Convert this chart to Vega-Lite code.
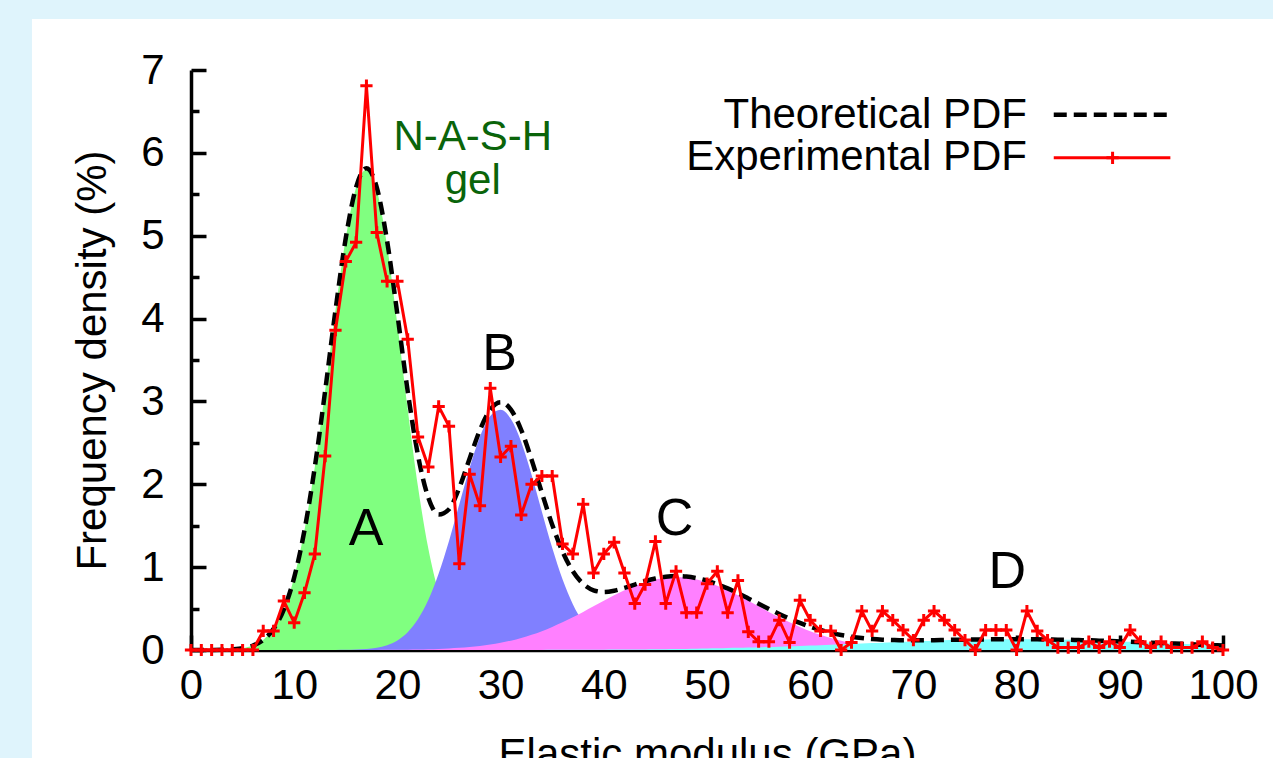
{
"$schema": "https://vega.github.io/schema/vega-lite/v6.json",
"autosize": "none",
"width": 1032,
"height": 580,
"padding": {"left": 191, "top": 70, "right": 50, "bottom": 108},
"background": "white",
"config": {"view": {"stroke": null}, "font": "Liberation Sans", "axis": {"grid": false}},
"datasets": {
"pdf": [
{"E":0,"exp":0,"A":0,"B":0,"C":0,"D":0,"T":0},
{"E":1,"exp":0,"A":0,"B":0,"C":0,"D":0,"T":0},
{"E":2,"exp":0,"A":0.001,"B":0,"C":0,"D":0,"T":0.001},
{"E":3,"exp":0,"A":0.003,"B":0,"C":0,"D":0,"T":0.003},
{"E":4,"exp":0,"A":0.009,"B":0,"C":0,"D":0,"T":0.009},
{"E":5,"exp":0,"A":0.022,"B":0,"C":0,"D":0,"T":0.022},
{"E":6,"exp":0,"A":0.054,"B":0,"C":0,"D":0,"T":0.054},
{"E":7,"exp":0.23,"A":0.122,"B":0,"C":0,"D":0,"T":0.122},
{"E":8,"exp":0.23,"A":0.255,"B":0,"C":0,"D":0,"T":0.255},
{"E":9,"exp":0.59,"A":0.491,"B":0,"C":0,"D":0,"T":0.491},
{"E":10,"exp":0.33,"A":0.876,"B":0,"C":0,"D":0,"T":0.876},
{"E":11,"exp":0.69,"A":1.447,"B":0,"C":0,"D":0,"T":1.447},
{"E":12,"exp":1.16,"A":2.211,"B":0,"C":0,"D":0,"T":2.211},
{"E":13,"exp":2.34,"A":3.128,"B":0.001,"C":0,"D":0,"T":3.129},
{"E":14,"exp":3.86,"A":4.099,"B":0.001,"C":0,"D":0,"T":4.1},
{"E":15,"exp":4.69,"A":4.971,"B":0.002,"C":0,"D":0,"T":4.973},
{"E":16,"exp":4.92,"A":5.581,"B":0.005,"C":0,"D":0,"T":5.586},
{"E":17,"exp":6.81,"A":5.8,"B":0.012,"C":0.001,"D":0,"T":5.813},
{"E":18,"exp":5.04,"A":5.555,"B":0.028,"C":0.001,"D":0,"T":5.584},
{"E":19,"exp":4.45,"A":4.878,"B":0.058,"C":0.002,"D":0,"T":4.938},
{"E":20,"exp":4.45,"A":3.93,"B":0.116,"C":0.003,"D":0,"T":4.049},
{"E":21,"exp":3.75,"A":2.903,"B":0.215,"C":0.004,"D":0,"T":3.122},
{"E":22,"exp":2.57,"A":1.967,"B":0.373,"C":0.006,"D":0,"T":2.346},
{"E":23,"exp":2.21,"A":1.222,"B":0.606,"C":0.009,"D":0,"T":1.837},
{"E":24,"exp":2.94,"A":0.697,"B":0.924,"C":0.013,"D":0,"T":1.634},
{"E":25,"exp":2.7,"A":0.364,"B":1.317,"C":0.018,"D":0,"T":1.699},
{"E":26,"exp":1.04,"A":0.174,"B":1.759,"C":0.026,"D":0,"T":1.959},
{"E":27,"exp":2.12,"A":0.077,"B":2.199,"C":0.036,"D":0,"T":2.312},
{"E":28,"exp":1.74,"A":0.031,"B":2.575,"C":0.049,"D":0,"T":2.655},
{"E":29,"exp":3.16,"A":0.011,"B":2.824,"C":0.066,"D":0,"T":2.901},
{"E":30,"exp":2.33,"A":0.004,"B":2.899,"C":0.087,"D":0.001,"T":2.991},
{"E":31,"exp":2.46,"A":0.001,"B":2.787,"C":0.113,"D":0.001,"T":2.902},
{"E":32,"exp":1.63,"A":0,"B":2.509,"C":0.145,"D":0.001,"T":2.655},
{"E":33,"exp":2.0,"A":0,"B":2.114,"C":0.183,"D":0.001,"T":2.298},
{"E":34,"exp":2.1,"A":0,"B":1.669,"C":0.227,"D":0.001,"T":1.897},
{"E":35,"exp":2.1,"A":0,"B":1.233,"C":0.278,"D":0.002,"T":1.513},
{"E":36,"exp":1.28,"A":0,"B":0.853,"C":0.334,"D":0.002,"T":1.189},
{"E":37,"exp":1.16,"A":0,"B":0.553,"C":0.395,"D":0.002,"T":0.95},
{"E":38,"exp":1.76,"A":0,"B":0.335,"C":0.46,"D":0.003,"T":0.798},
{"E":39,"exp":0.93,"A":0,"B":0.191,"C":0.527,"D":0.003,"T":0.721},
{"E":40,"exp":1.16,"A":0,"B":0.102,"C":0.594,"D":0.004,"T":0.7},
{"E":41,"exp":1.3,"A":0,"B":0.051,"C":0.66,"D":0.005,"T":0.716},
{"E":42,"exp":0.93,"A":0,"B":0.024,"C":0.72,"D":0.005,"T":0.749},
{"E":43,"exp":0.56,"A":0,"B":0.01,"C":0.774,"D":0.006,"T":0.79},
{"E":44,"exp":0.79,"A":0,"B":0.004,"C":0.819,"D":0.007,"T":0.83},
{"E":45,"exp":1.31,"A":0,"B":0.002,"C":0.852,"D":0.009,"T":0.863},
{"E":46,"exp":0.56,"A":0,"B":0.001,"C":0.873,"D":0.01,"T":0.884},
{"E":47,"exp":0.95,"A":0,"B":0,"C":0.88,"D":0.012,"T":0.892},
{"E":48,"exp":0.45,"A":0,"B":0,"C":0.873,"D":0.013,"T":0.886},
{"E":49,"exp":0.45,"A":0,"B":0,"C":0.852,"D":0.015,"T":0.867},
{"E":50,"exp":0.8,"A":0,"B":0,"C":0.819,"D":0.018,"T":0.837},
{"E":51,"exp":0.95,"A":0,"B":0,"C":0.774,"D":0.02,"T":0.794},
{"E":52,"exp":0.45,"A":0,"B":0,"C":0.72,"D":0.023,"T":0.743},
{"E":53,"exp":0.84,"A":0,"B":0,"C":0.66,"D":0.026,"T":0.686},
{"E":54,"exp":0.22,"A":0,"B":0,"C":0.594,"D":0.029,"T":0.623},
{"E":55,"exp":0.1,"A":0,"B":0,"C":0.527,"D":0.032,"T":0.559},
{"E":56,"exp":0.1,"A":0,"B":0,"C":0.46,"D":0.036,"T":0.496},
{"E":57,"exp":0.36,"A":0,"B":0,"C":0.395,"D":0.04,"T":0.435},
{"E":58,"exp":0.09,"A":0,"B":0,"C":0.334,"D":0.044,"T":0.378},
{"E":59,"exp":0.6,"A":0,"B":0,"C":0.278,"D":0.049,"T":0.327},
{"E":60,"exp":0.36,"A":0,"B":0,"C":0.227,"D":0.053,"T":0.28},
{"E":61,"exp":0.23,"A":0,"B":0,"C":0.183,"D":0.058,"T":0.241},
{"E":62,"exp":0.23,"A":0,"B":0,"C":0.145,"D":0.063,"T":0.208},
{"E":63,"exp":0,"A":0,"B":0,"C":0.113,"D":0.068,"T":0.181},
{"E":64,"exp":0.09,"A":0,"B":0,"C":0.087,"D":0.074,"T":0.161},
{"E":65,"exp":0.47,"A":0,"B":0,"C":0.066,"D":0.079,"T":0.145},
{"E":66,"exp":0.23,"A":0,"B":0,"C":0.049,"D":0.084,"T":0.133},
{"E":67,"exp":0.47,"A":0,"B":0,"C":0.036,"D":0.089,"T":0.125},
{"E":68,"exp":0.36,"A":0,"B":0,"C":0.026,"D":0.094,"T":0.12},
{"E":69,"exp":0.24,"A":0,"B":0,"C":0.018,"D":0.099,"T":0.117},
{"E":70,"exp":0.12,"A":0,"B":0,"C":0.013,"D":0.104,"T":0.117},
{"E":71,"exp":0.36,"A":0,"B":0,"C":0.009,"D":0.109,"T":0.118},
{"E":72,"exp":0.47,"A":0,"B":0,"C":0.006,"D":0.113,"T":0.119},
{"E":73,"exp":0.36,"A":0,"B":0,"C":0.004,"D":0.117,"T":0.121},
{"E":74,"exp":0.24,"A":0,"B":0,"C":0.003,"D":0.12,"T":0.123},
{"E":75,"exp":0.12,"A":0,"B":0,"C":0.002,"D":0.123,"T":0.125},
{"E":76,"exp":0,"A":0,"B":0,"C":0.001,"D":0.125,"T":0.126},
{"E":77,"exp":0.24,"A":0,"B":0,"C":0.001,"D":0.127,"T":0.128},
{"E":78,"exp":0.24,"A":0,"B":0,"C":0,"D":0.129,"T":0.129},
{"E":79,"exp":0.24,"A":0,"B":0,"C":0,"D":0.13,"T":0.13},
{"E":80,"exp":0,"A":0,"B":0,"C":0,"D":0.13,"T":0.13},
{"E":81,"exp":0.47,"A":0,"B":0,"C":0,"D":0.13,"T":0.13},
{"E":82,"exp":0.23,"A":0,"B":0,"C":0,"D":0.129,"T":0.129},
{"E":83,"exp":0.12,"A":0,"B":0,"C":0,"D":0.127,"T":0.127},
{"E":84,"exp":0.03,"A":0,"B":0,"C":0,"D":0.125,"T":0.125},
{"E":85,"exp":0.03,"A":0,"B":0,"C":0,"D":0.123,"T":0.123},
{"E":86,"exp":0.03,"A":0,"B":0,"C":0,"D":0.12,"T":0.12},
{"E":87,"exp":0.1,"A":0,"B":0,"C":0,"D":0.117,"T":0.117},
{"E":88,"exp":0.03,"A":0,"B":0,"C":0,"D":0.113,"T":0.113},
{"E":89,"exp":0.1,"A":0,"B":0,"C":0,"D":0.109,"T":0.109},
{"E":90,"exp":0.03,"A":0,"B":0,"C":0,"D":0.104,"T":0.104},
{"E":91,"exp":0.24,"A":0,"B":0,"C":0,"D":0.099,"T":0.099},
{"E":92,"exp":0.1,"A":0,"B":0,"C":0,"D":0.094,"T":0.094},
{"E":93,"exp":0.03,"A":0,"B":0,"C":0,"D":0.089,"T":0.089},
{"E":94,"exp":0.1,"A":0,"B":0,"C":0,"D":0.084,"T":0.084},
{"E":95,"exp":0.03,"A":0,"B":0,"C":0,"D":0.079,"T":0.079},
{"E":96,"exp":0.03,"A":0,"B":0,"C":0,"D":0.074,"T":0.074},
{"E":97,"exp":0.03,"A":0,"B":0,"C":0,"D":0.068,"T":0.068},
{"E":98,"exp":0.1,"A":0,"B":0,"C":0,"D":0.063,"T":0.063},
{"E":99,"exp":0.03,"A":0,"B":0,"C":0,"D":0.058,"T":0.058},
{"E":100,"exp":0,"A":0,"B":0,"C":0,"D":0.053,"T":0.053}
],
"peaks": [
{"E":16.96,"v":1.27,"t":"A"},
{"E":29.9,"v":3.38,"t":"B"},
{"E":46.85,"v":1.39,"t":"C"},
{"E":79.1,"v":0.75,"t":"D"}
],
"gel": [
{"E":27.3,"v":6.03,"t":"N-A-S-H"},
{"E":27.3,"v":5.5,"t":"gel"}
],
"legend": [
{"E":81.0,"v":6.3,"t":"Theoretical PDF"},
{"E":81.0,"v":5.79,"t":"Experimental PDF"}
],
"one": [{}]
},
"layer": [
{
"data": {"name": "one"},
"mark": {"type": "rect", "fill": "#dff4fc"},
"encoding": {
"x": {"datum": -20, "type": "quantitative", "scale": {"domain": [0, 100], "nice": false, "zero": false}},
"x2": {"datum": -15.41},
"y": {"datum": -3, "type": "quantitative", "scale": {"domain": [0, 7], "nice": false, "zero": false}},
"y2": {"datum": 8.6}
}
},
{
"data": {"name": "one"},
"mark": {"type": "rect", "fill": "#dff4fc"},
"encoding": {
"x": {"datum": -20, "type": "quantitative", "scale": {"domain": [0, 100], "nice": false, "zero": false}},
"x2": {"datum": 110},
"y": {"datum": 7.615, "type": "quantitative", "scale": {"domain": [0, 7], "nice": false, "zero": false}},
"y2": {"datum": 8.6}
}
},
{
"data": {"name": "pdf"},
"mark": {"type": "area", "color": "#80ff80", "opacity": 1, "interpolate": "monotone"},
"encoding": {
"x": {"field": "E", "type": "quantitative", "scale": {"domain": [0, 100], "nice": false, "zero": false},
"axis": {"title": "Elastic modulus (GPa)", "values": [0,10,20,30,40,50,60,70,80,90,100], "tickSize": -15, "tickWidth": 3.5, "tickColor": "black", "domainColor": "black", "domainWidth": 3.5, "labelFontSize": 42, "labelColor": "black", "labelPadding": 30, "labelDx": 5, "labelFlush": false, "labelOverlap": false, "labelBound": false, "titleFontSize": 42, "titleFontWeight": "normal", "titleColor": "black", "titlePadding": 28}},
"y": {"field": "A", "type": "quantitative", "scale": {"domain": [0, 7], "nice": false, "zero": false},
"axis": {"title": "Frequency density (%)", "values": [0,0.5,1,1.5,2,2.5,3,3.5,4,4.5,5,5.5,6,6.5,7], "tickSize": {"condition": {"test": "datum.value % 1 === 0", "value": -15}, "value": -8}, "labelExpr": "datum.value % 1 === 0 ? format(datum.value, 'd') : ''", "tickWidth": 3.5, "tickColor": "black", "domainColor": "black", "domainWidth": 3.5, "labelFontSize": 42, "labelColor": "black", "labelPadding": 42, "labelFlush": false, "labelOverlap": false, "labelBound": false, "titleFontSize": 42, "titleFontWeight": "normal", "titleColor": "black", "titlePadding": 26}}
}
},
{
"data": {"name": "pdf"},
"mark": {"type": "area", "color": "#8080ff", "opacity": 1, "interpolate": "monotone"},
"encoding": {
"x": {"field": "E", "type": "quantitative", "scale": {"domain": [0, 100], "nice": false, "zero": false}},
"y": {"field": "B", "type": "quantitative", "scale": {"domain": [0, 7], "nice": false, "zero": false}}
}
},
{
"data": {"name": "pdf"},
"mark": {"type": "area", "color": "#ff80ff", "opacity": 1, "interpolate": "monotone"},
"encoding": {
"x": {"field": "E", "type": "quantitative", "scale": {"domain": [0, 100], "nice": false, "zero": false}},
"y": {"field": "C", "type": "quantitative", "scale": {"domain": [0, 7], "nice": false, "zero": false}}
}
},
{
"data": {"name": "pdf"},
"mark": {"type": "area", "color": "#80ffff", "opacity": 1, "interpolate": "monotone"},
"encoding": {
"x": {"field": "E", "type": "quantitative", "scale": {"domain": [0, 100], "nice": false, "zero": false}},
"y": {"field": "D", "type": "quantitative", "scale": {"domain": [0, 7], "nice": false, "zero": false}}
}
},
{
"data": {"name": "pdf"},
"mark": {"type": "line", "color": "black", "strokeWidth": 4.5, "strokeDash": [13, 7], "interpolate": "monotone"},
"encoding": {
"x": {"field": "E", "type": "quantitative", "scale": {"domain": [0, 100], "nice": false, "zero": false}},
"y": {"field": "T", "type": "quantitative", "scale": {"domain": [0, 7], "nice": false, "zero": false}}
}
},
{
"data": {"name": "pdf"},
"mark": {"type": "line", "color": "#ff0000", "strokeWidth": 3},
"encoding": {
"x": {"field": "E", "type": "quantitative", "scale": {"domain": [0, 100], "nice": false, "zero": false}},
"y": {"field": "exp", "type": "quantitative", "scale": {"domain": [0, 7], "nice": false, "zero": false}}
}
},
{
"data": {"name": "pdf"},
"mark": {"type": "point", "shape": "M-1,0L1,0M0,-1L0,1", "filled": false, "stroke": "#ff0000", "strokeWidth": 3, "size": 150, "opacity": 1},
"encoding": {
"x": {"field": "E", "type": "quantitative", "scale": {"domain": [0, 100], "nice": false, "zero": false}},
"y": {"field": "exp", "type": "quantitative", "scale": {"domain": [0, 7], "nice": false, "zero": false}}
}
},
{
"data": {"name": "peaks"},
"mark": {"type": "text", "fontSize": 52, "color": "black", "align": "center", "baseline": "alphabetic"},
"encoding": {
"x": {"field": "E", "type": "quantitative", "scale": {"domain": [0, 100], "nice": false, "zero": false}},
"y": {"field": "v", "type": "quantitative", "scale": {"domain": [0, 7], "nice": false, "zero": false}},
"text": {"field": "t"}
}
},
{
"data": {"name": "gel"},
"mark": {"type": "text", "fontSize": 42, "color": "#0a640a", "align": "center", "baseline": "alphabetic"},
"encoding": {
"x": {"field": "E", "type": "quantitative", "scale": {"domain": [0, 100], "nice": false, "zero": false}},
"y": {"field": "v", "type": "quantitative", "scale": {"domain": [0, 7], "nice": false, "zero": false}},
"text": {"field": "t"}
}
},
{
"data": {"name": "legend"},
"mark": {"type": "text", "fontSize": 42, "color": "black", "align": "right", "baseline": "alphabetic"},
"encoding": {
"x": {"field": "E", "type": "quantitative", "scale": {"domain": [0, 100], "nice": false, "zero": false}},
"y": {"field": "v", "type": "quantitative", "scale": {"domain": [0, 7], "nice": false, "zero": false}},
"text": {"field": "t"}
}
},
{
"data": {"name": "one"},
"mark": {"type": "rule", "color": "black", "strokeWidth": 4.5, "strokeDash": [13, 7]},
"encoding": {
"x": {"datum": 83.6, "type": "quantitative", "scale": {"domain": [0, 100], "nice": false, "zero": false}},
"x2": {"datum": 94.9},
"y": {"datum": 6.46, "type": "quantitative", "scale": {"domain": [0, 7], "nice": false, "zero": false}}
}
},
{
"data": {"name": "one"},
"mark": {"type": "rule", "color": "#ff0000", "strokeWidth": 3},
"encoding": {
"x": {"datum": 83.6, "type": "quantitative", "scale": {"domain": [0, 100], "nice": false, "zero": false}},
"x2": {"datum": 94.9},
"y": {"datum": 5.94, "type": "quantitative", "scale": {"domain": [0, 7], "nice": false, "zero": false}}
}
},
{
"data": {"name": "one"},
"mark": {"type": "point", "shape": "M-1,0L1,0M0,-1L0,1", "filled": false, "stroke": "#ff0000", "strokeWidth": 3, "size": 150, "opacity": 1},
"encoding": {
"x": {"datum": 89.3, "type": "quantitative", "scale": {"domain": [0, 100], "nice": false, "zero": false}},
"y": {"datum": 5.94, "type": "quantitative", "scale": {"domain": [0, 7], "nice": false, "zero": false}}
}
}
]
}
